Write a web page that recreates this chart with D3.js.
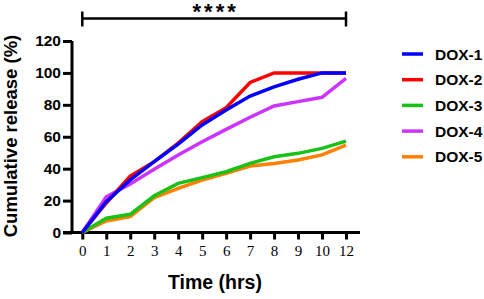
<!DOCTYPE html>
<html>
<head>
<meta charset="utf-8">
<script src="https://cdn.jsdelivr.net/npm/d3@7"></script>
<style>
  body { margin: 0; background: #fff; }
  svg { display: block; }
</style>
</head>
<body>
<div id="chart"></div>
<script>
// time points (hrs) - x axis is categorical, 11 is skipped
const times = ["0", "1", "2", "3", "4", "5", "6", "7", "8", "9", "10", "12"];
const yTicks = [0, 20, 40, 60, 80, 100, 120];

const seriesNames = ["DOX-1", "DOX-2", "DOX-3", "DOX-4", "DOX-5"];
const seriesColors = ["#0000ff", "#ff0000", "#19c219", "#cc33ff", "#ff8000"];

const dox1 = [0, 19.3, 33, 44.4, 55.4, 67.4, 76.7, 85.5, 91.3, 96, 100, 100];
const dox2 = [0, 18.5, 35.4, 44.4, 56, 69.4, 78.2, 94, 100, 100, 100, 100];
const dox3 = [0, 8.9, 11.4, 23, 30.8, 34.4, 38.1, 43.3, 47.5, 49.6, 52.7, 57.3];
const dox4 = [0, 22.4, 30.4, 39.6, 48.6, 56.9, 64.6, 72.2, 79.3, 82, 84.7, 96.6];
const dox5 = [0, 7.2, 9.9, 21.8, 27.7, 32.9, 37.1, 41.7, 43.3, 45.4, 48.6, 54.8];

const seriesValues = [dox1, dox2, dox3, dox4, dox5];
// draw order so overlaps look like the original
const drawOrder = [4, 2, 3, 1, 0];

let width = 484, height = 299;

let svg = d3.select("#chart").append("svg")
    .attr("width", width)
    .attr("height", height);

let x = d3.scalePoint()
    .domain(times)
    .range([82.3, 346]);

let y = d3.scaleLinear()
    .domain([0, 120])
    .range([232.5, 41]);

// y axis
let gy = svg.append("g")
    .attr("transform", "translate(72,0)")
    .call(d3.axisLeft(y).tickValues(yTicks).tickSize(9).tickPadding(2));
gy.select(".domain").attr("stroke", "#000").attr("stroke-width", 3)
    .attr("d", `M0,${y(120)}V${y(0)}`);
gy.selectAll(".tick line").attr("stroke", "#000").attr("stroke-width", 3);
gy.selectAll(".tick text")
    .attr("fill", "#000")
    .style("font-family", "Liberation Sans, Arial, sans-serif")
    .style("font-weight", "bold")
    .style("font-size", "15.5px");

// x axis
let gx = svg.append("g")
    .attr("transform", `translate(0,${y(0)})`)
    .call(d3.axisBottom(x).tickSize(7).tickPadding(6));
gx.select(".domain").attr("stroke", "#000").attr("stroke-width", 3)
    .attr("d", "M63,0H360");
gx.selectAll(".tick line").attr("stroke", "#000").attr("stroke-width", 3);
gx.selectAll(".tick text")
    .attr("fill", "#000")
    .style("font-family", "Liberation Serif, Times New Roman, serif")
    .style("font-size", "15px");

// axis titles
svg.append("text")
    .attr("transform", "translate(17,136) rotate(-90)")
    .attr("text-anchor", "middle")
    .style("font-family", "Liberation Sans, Arial, sans-serif")
    .style("font-weight", "bold")
    .style("font-size", "18.5px")
    .text("Cumulative release (%)");

svg.append("text")
    .attr("x", 215)
    .attr("y", 289)
    .attr("text-anchor", "middle")
    .style("font-family", "Liberation Sans, Arial, sans-serif")
    .style("font-weight", "bold")
    .style("font-size", "19.5px")
    .text("Time (hrs)");

// lines
let line = d3.line()
    .x((d, i) => x(times[i]))
    .y(d => y(d));

drawOrder.forEach(k => {
    svg.append("path")
        .datum(seriesValues[k])
        .attr("fill", "none")
        .attr("stroke", seriesColors[k])
        .attr("stroke-width", 3.5)
        .attr("stroke-linejoin", "miter")
        .attr("d", line);
});

// significance bracket
let bracketY = 18.5;
let bracket = svg.append("g").attr("stroke", "#000").attr("stroke-width", 2.5);
bracket.append("line")
    .attr("x1", x("0")).attr("x2", x("12"))
    .attr("y1", bracketY).attr("y2", bracketY);
bracket.append("line")
    .attr("x1", x("0")).attr("x2", x("0"))
    .attr("y1", bracketY - 7).attr("y2", bracketY + 8);
bracket.append("line")
    .attr("x1", x("12")).attr("x2", x("12"))
    .attr("y1", bracketY - 7).attr("y2", bracketY + 8);

svg.append("text")
    .attr("x", (x("0") + x("12")) / 2 + 1.5)
    .attr("y", 19)
    .attr("text-anchor", "middle")
    .style("font-family", "Liberation Sans, Arial, sans-serif")
    .style("font-weight", "bold")
    .style("font-size", "22px")
    .style("letter-spacing", "3px")
    .text("****");

// legend
let legend = svg.append("g").attr("transform", "translate(402,54)");
seriesNames.forEach((name, i) => {
    let g = legend.append("g").attr("transform", `translate(0,${i * 25.7})`);
    g.append("line")
        .attr("x1", 0).attr("x2", 21)
        .attr("stroke", seriesColors[i])
        .attr("stroke-width", 3.5);
    g.append("text")
        .attr("x", 33)
        .attr("y", 5.5)
        .style("font-family", "Liberation Sans, Arial, sans-serif")
        .style("font-weight", "bold")
        .style("font-size", "15.5px")
        .text(name);
});
</script>
</body>
</html>
